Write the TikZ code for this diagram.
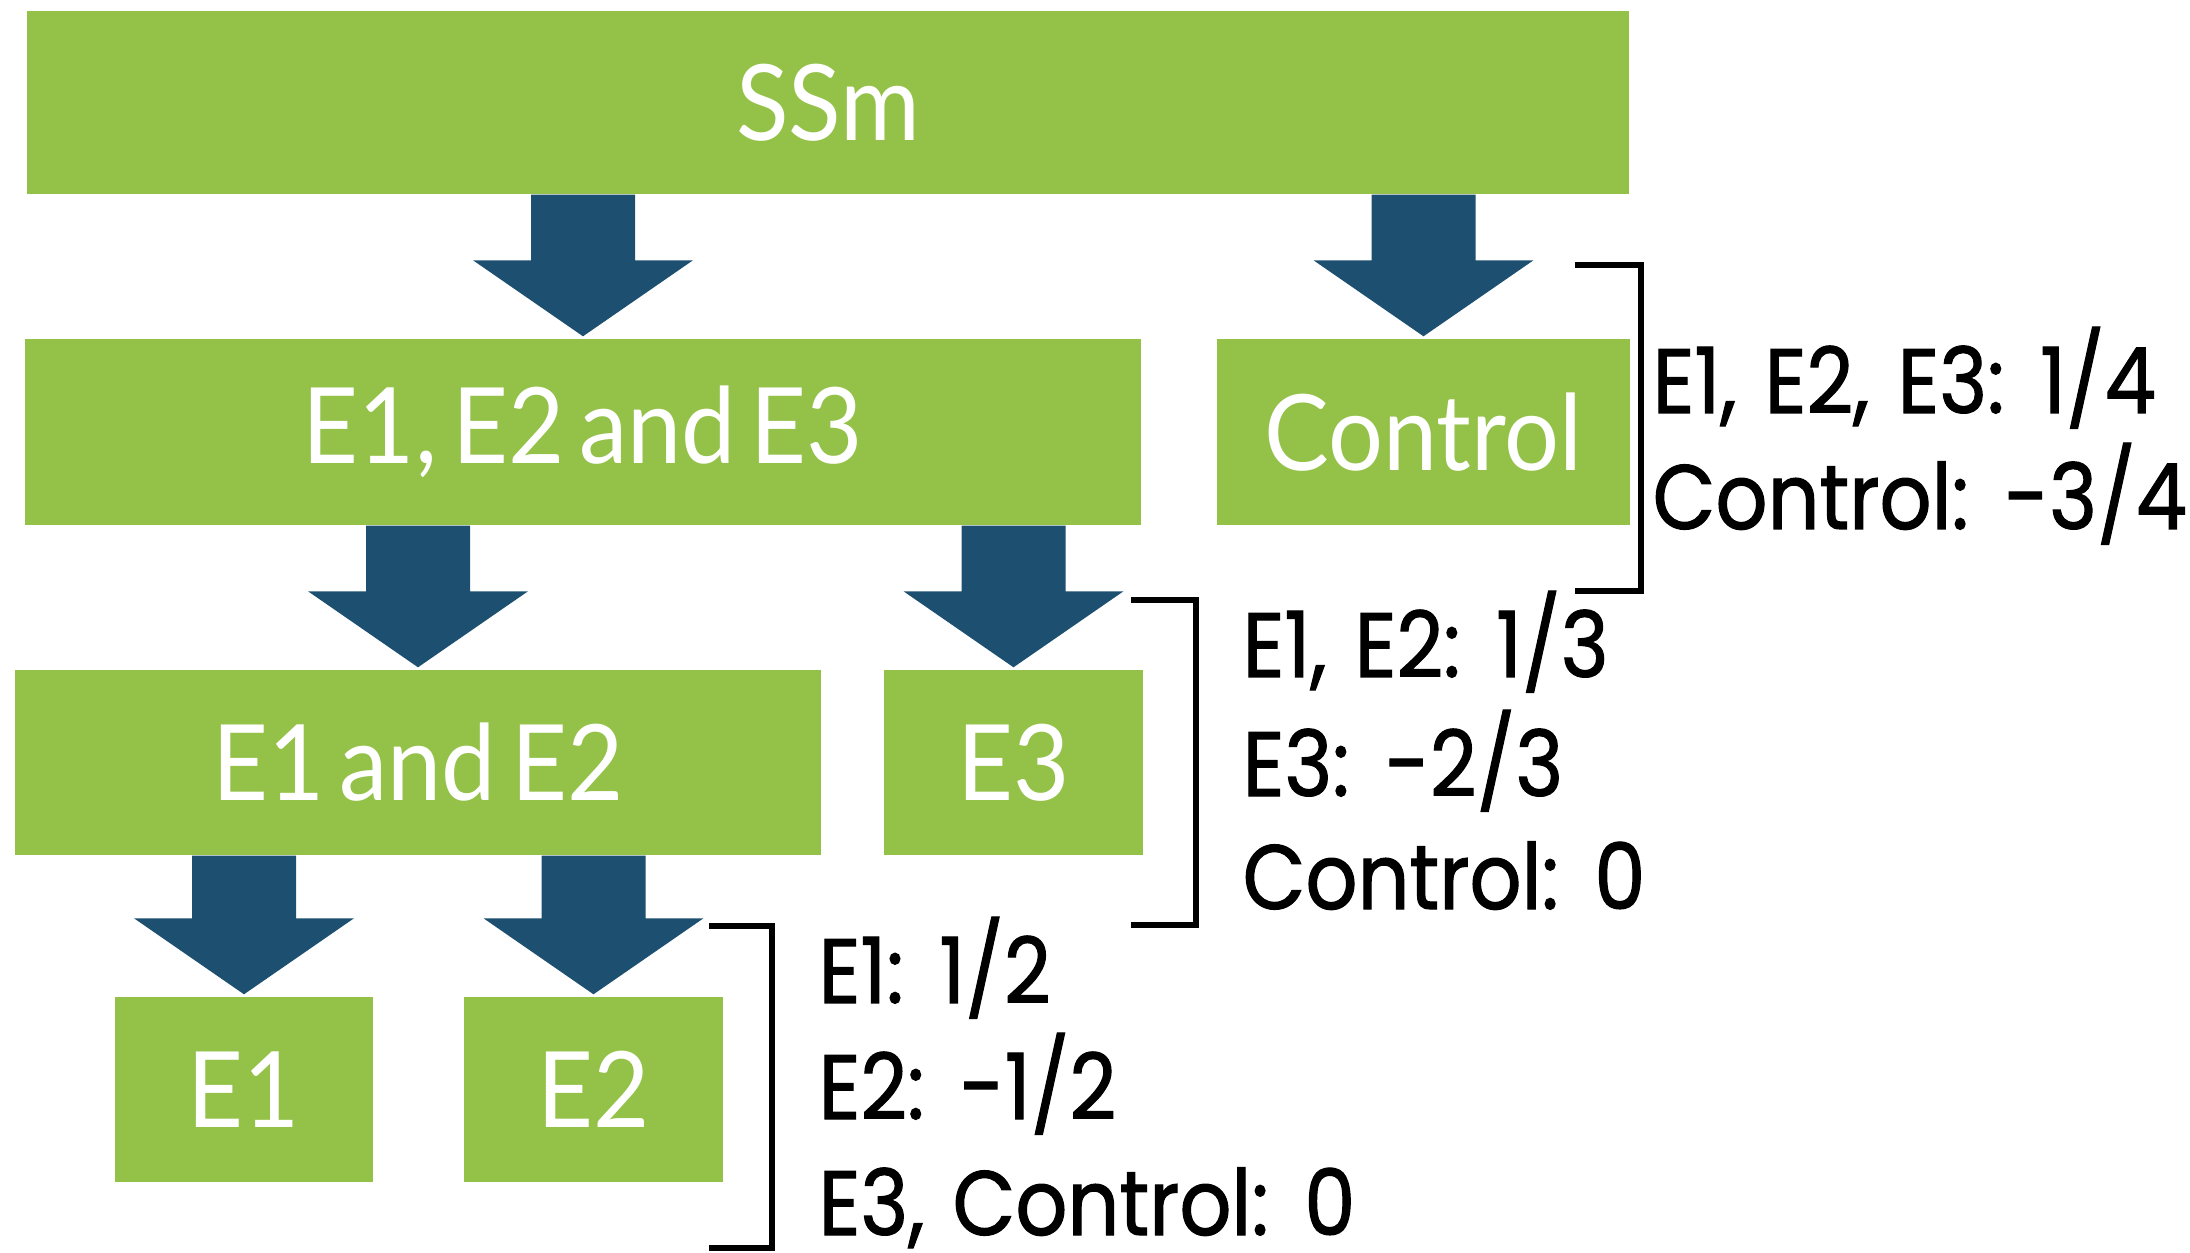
\documentclass[tikz,border=0pt]{standalone}
\usepackage{fontspec}
\setmainfont[FakeStretch=0.89, WordSpace=1.3, FakeBold=1.2]{Poppins}
\newfontfamily\boxfont[FakeStretch=0.92, WordSpace=0.6]{Lato}
\usepackage{xcolor}
\usepackage{tikz}
\usetikzlibrary{positioning,calc}

\definecolor{boxgreen}{RGB}{148,193,72}
\definecolor{arrowblue}{RGB}{29,79,112}

\tikzset{
  stepbox/.style={fill=boxgreen, draw=none, inner sep=0pt, text=white,
    font=\boxfont\fontsize{30}{36}\selectfont},
  share/.style={anchor=base west, inner sep=0pt, text=black,
    font=\fontsize{26}{32}\selectfont},
  bracket/.style={draw=black, line width=1.5pt}
}

% block arrow from the bottom of #1 down to the top of #2
\newcommand{\blockdown}[2]{%
  \path (#2.north |- #1.south) coordinate (s) ([yshift=0.02cm]#2.north) coordinate (t);
  \fill[arrowblue] ([xshift=-0.52cm]s) -- ([xshift=-0.52cm,yshift=0.76cm]t)
    -- ([xshift=-1.1cm,yshift=0.76cm]t) -- (t)
    -- ([xshift=1.1cm,yshift=0.76cm]t) -- ([xshift=0.52cm,yshift=0.76cm]t)
    -- ([xshift=0.52cm]s) -- cycle;}

\begin{document}
\begin{tikzpicture}
            \useasboundingbox (0,0) rectangle (21.90,12.52);
            \node[stepbox, minimum width=16.02cm, minimum height=1.83cm] (ssm) at (8.28,11.495) {SSm};
            \node[stepbox, minimum width=11.16cm, minimum height=1.86cm] (e123) at (5.83,8.20) {E1, E2 and E3};
            \node[stepbox, minimum width=4.13cm, minimum height=1.86cm] (ctrl) at (14.235,8.20) {Control};
            \node[stepbox, minimum width=8.06cm, minimum height=1.85cm] (e12) at (4.18,4.895) {E1 and E2};
            \node[stepbox, minimum width=2.59cm, minimum height=1.85cm] (e3) at (10.135,4.895) {E3};
            \node[stepbox, minimum width=2.58cm, minimum height=1.85cm] (e1) at (2.44,1.625) {E1};
            \node[stepbox, minimum width=2.59cm, minimum height=1.85cm] (e2) at (5.935,1.625) {E2};

            \foreach \from/\to in {ssm/e123, ssm/ctrl, e123/e12, e123/e3, e12/e1, e12/e2}
            \blockdown{\from}{\to};

            % brackets
            \draw[bracket] (15.75,9.87) -| (16.41,6.61) -- (15.75,6.61);
            \draw[bracket] (11.31,6.52) -| (11.96,3.27) -- (11.31,3.27);
            \draw[bracket] (7.09,3.26) -| (7.72,0.04) -- (7.09,0.04);

            % contrast weights
            \node[share] (w1a) at (16.52,8.39) {E1, E2, E3: 1/4};
            \node[share] (w1b) at (16.52,7.23) {Control: -3/4};
            \node[share] (w2a) at (12.42,5.75) {E1, E2: 1/3};
            \node[share] (w2b) at (12.42,4.56) {E3: -2/3};
            \node[share] (w2c) at (12.42,3.43) {Control: 0};
            \node[share] (w3a) at (8.18,2.49) {E1: 1/2};
            \node[share] (w3b) at (8.18,1.33) {E2: -1/2};
            \node[share] (w3c) at (8.18,0.17) {E3, Control: 0};
          \end{tikzpicture}
\end{document}
